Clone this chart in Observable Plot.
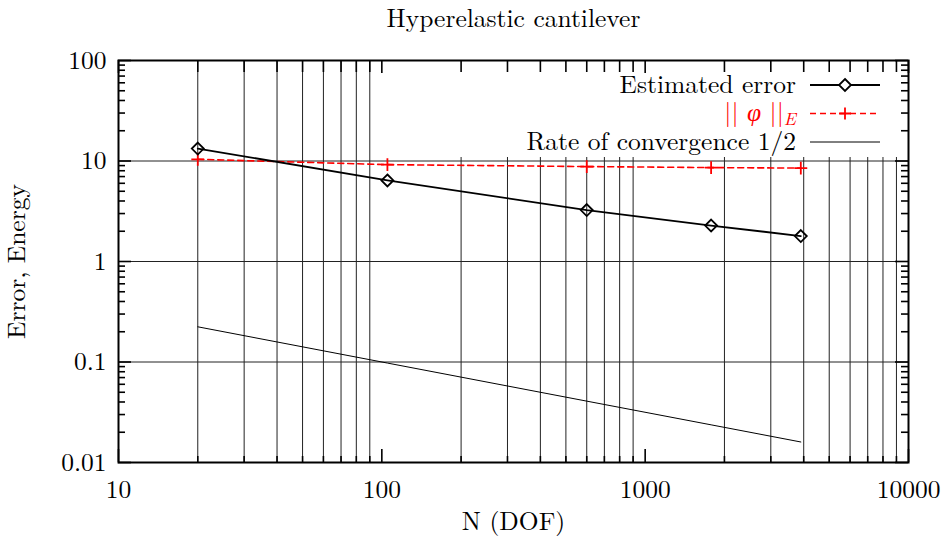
<!DOCTYPE html>
<html><head><meta charset="utf-8">
<script src="https://cdn.jsdelivr.net/npm/d3@7"></script>
<script src="https://cdn.jsdelivr.net/npm/@observablehq/plot@0.6"></script>
<style>
body{margin:0;background:#fff}
#chart svg text{font-family:"Latin Modern Roman","Liberation Serif",serif}
</style>
</head><body><div id="chart"></div>
<script>
// ---- data ----
const dofN = [20, 105, 600, 1780, 3900];
const estimatedError = [13.3, 6.4, 3.25, 2.28, 1.79];
const energyNorm = [10.4, 9.2, 8.8, 8.6, 8.5];
const rateN = [20, 105, 600, 1780, 3900];
const rateValues = [0.224, 0.0976, 0.0408, 0.0237, 0.016];

const xMajorTicks = [10, 100, 1000, 10000];
const xMinorTicks = [20,30,40,50,60,70,80,90,200,300,400,500,600,700,800,900,2000,3000,4000,5000,6000,7000,8000,9000];
const yMajorTicks = [0.01, 0.1, 1, 10, 100];
const yTickLabels = ["0.01", "0.1", "1", "10", "100"];
const yMinorTicks = [0.02,0.03,0.04,0.05,0.06,0.07,0.08,0.09,0.2,0.3,0.4,0.5,0.6,0.7,0.8,0.9,2,3,4,5,6,7,8,9,20,30,40,50,60,70,80,90];
const yGridTicks = [0.1, 1, 10];

const titleText = "Hyperelastic cantilever";
const xLabel = "N (DOF)";
const yLabel = "Error, Energy";
const seriesNames = ["Estimated error", "|| φ ||", "Rate of convergence 1/2"];

// ---- layout ----
const W = 941, H = 548, mL = 118, mR = 33, mT = 60, mB = 86;
const pW = W - mL - mR, pH = H - mT - mB;
const FONT = "'Latin Modern Roman', 'Liberation Serif', serif";
const FS = 25.5;

const estData = dofN.map((n, i) => ({n, v: estimatedError[i]}));
const engData = dofN.map((n, i) => ({n, v: energyNorm[i]}));
const rateData = rateN.map((n, i) => ({n, v: rateValues[i]}));

const diamondSym = {draw(ctx, size) { const r = Math.sqrt(size / Math.PI) * 1.3; ctx.moveTo(0, -r); ctx.lineTo(r, 0); ctx.lineTo(0, r); ctx.lineTo(-r, 0); ctx.closePath(); }};
const plusSym = {draw(ctx, size) { const r = Math.sqrt(size / Math.PI) * 1.4; ctx.moveTo(-r, 0); ctx.lineTo(r, 0); ctx.moveTo(0, -r); ctx.lineTo(0, r); }};

const legendBoxX = 400;
const legendBox = () => {
  const g = d3.create("svg:g");
  g.append("rect").attr("x", legendBoxX).attr("y", mT + 1).attr("width", W - mR - legendBoxX - 1).attr("height", 96).attr("fill", "white");
  return g.node();
};

const legendEntries = () => {
  const g = d3.create("svg:g").attr("font-family", FONT).style("font-family", FONT);
  const rows = [85, 113.5, 142];
  const tx = 796, lx1 = 810, lx2 = 880, mx = 845;
  g.append("text").attr("x", tx).attr("y", rows[0]).attr("dy", "0.33em").attr("text-anchor", "end").attr("font-size", FS).attr("fill", "black").text(seriesNames[0]);
  g.append("line").attr("x1", lx1).attr("x2", lx2).attr("y1", rows[0]).attr("y2", rows[0]).attr("stroke", "black").attr("stroke-width", 1.8);
  const r = 6;
  g.append("path").attr("d", `M${mx},${rows[0]-r}L${mx+r},${rows[0]}L${mx},${rows[0]+r}L${mx-r},${rows[0]}Z`).attr("fill", "white").attr("stroke", "black").attr("stroke-width", 1.8);
  const t = g.append("text").attr("x", tx).attr("y", rows[1]).attr("dy", "0.3em").attr("text-anchor", "end").attr("font-size", FS).attr("fill", "#f00");
  t.append("tspan").text("|| ");
  t.append("tspan").attr("font-style", "italic").text("φ");
  t.append("tspan").text(" ||");
  t.append("tspan").attr("font-style", "italic").attr("font-size", 18).attr("dy", 4).text("E");
  g.append("line").attr("x1", lx1).attr("x2", lx2).attr("y1", rows[1]).attr("y2", rows[1]).attr("stroke", "#f00").attr("stroke-width", 1.6).attr("stroke-dasharray", "6,4");
  g.append("path").attr("d", `M${mx-6},${rows[1]}H${mx+6}M${mx},${rows[1]-6}V${rows[1]+6}`).attr("stroke", "#f00").attr("stroke-width", 1.8);
  g.append("text").attr("x", tx).attr("y", rows[2]).attr("dy", "0.33em").attr("text-anchor", "end").attr("font-size", FS).attr("fill", "black").text(seriesNames[2]);
  g.append("line").attr("x1", lx1).attr("x2", lx2).attr("y1", rows[2]).attr("y2", rows[2]).attr("stroke", "black").attr("stroke-width", 1);
  return g.node();
};

const txt = {fontSize: FS, fill: "black", fontFamily: FONT};

const chart = Plot.plot({
  width: W, height: H,
  marginLeft: mL, marginRight: mR, marginTop: mT, marginBottom: mB,
  style: {background: "white", color: "black", overflow: "visible", fontFamily: FONT},
  x: {type: "log", domain: [10, 10000], axis: null},
  y: {type: "log", domain: [0.01, 100], axis: null},
  marks: [
    Plot.ruleX(xMinorTicks, {stroke: "#222", strokeWidth: 1}),
    Plot.ruleY(yGridTicks, {stroke: "#222", strokeWidth: 1}),
    legendBox,
    Plot.ruleX(xMinorTicks, {insetTop: pH - 6, stroke: "black", strokeWidth: 1.6}),
    Plot.ruleX(xMinorTicks, {insetBottom: pH - 12, stroke: "black", strokeWidth: 1.6}),
    Plot.ruleX(xMajorTicks, {insetTop: pH - 13, stroke: "black", strokeWidth: 1.6}),
    Plot.ruleX(xMajorTicks, {insetBottom: pH - 13, stroke: "black", strokeWidth: 1.6}),
    Plot.ruleY(yMinorTicks, {insetRight: pW - 7, stroke: "black", strokeWidth: 1.6}),
    Plot.ruleY(yMinorTicks, {insetLeft: pW - 7, stroke: "black", strokeWidth: 1.6}),
    Plot.ruleY(yMajorTicks, {insetRight: pW - 13, stroke: "black", strokeWidth: 1.6}),
    Plot.ruleY(yMajorTicks, {insetLeft: pW - 13, stroke: "black", strokeWidth: 1.6}),
    Plot.frame({stroke: "black", strokeWidth: 2}),
    Plot.line(rateData, {x: "n", y: "v", stroke: "black", strokeWidth: 1}),
    Plot.line(engData, {x: "n", y: "v", stroke: "#f00", strokeWidth: 1.6, strokeDasharray: "6,4"}),
    Plot.dot(engData, {x: "n", y: "v", symbol: plusSym, r: 4.6, stroke: "#f00", strokeWidth: 1.8, fill: "none"}),
    Plot.line(estData, {x: "n", y: "v", stroke: "black", strokeWidth: 1.8}),
    Plot.dot(estData, {x: "n", y: "v", symbol: diamondSym, r: 4.6, stroke: "black", strokeWidth: 1.8, fill: "none"}),
    Plot.text(xMajorTicks, {...txt, x: d => d, frameAnchor: "bottom", dy: 35, text: d => String(d)}),
    Plot.text(yMajorTicks, {...txt, y: d => d, frameAnchor: "left", dx: -12, textAnchor: "end", text: (d, i) => yTickLabels[i]}),
    Plot.text([titleText], {...txt, frameAnchor: "top", dy: -52}),
    Plot.text([xLabel], {...txt, frameAnchor: "bottom", dy: 67}),
    Plot.text([yLabel], {...txt, frameAnchor: "left", dx: -102, rotate: -90, textAnchor: "middle"}),
    legendEntries
  ]
});
document.getElementById("chart").appendChild(chart);
</script>
</body></html>
